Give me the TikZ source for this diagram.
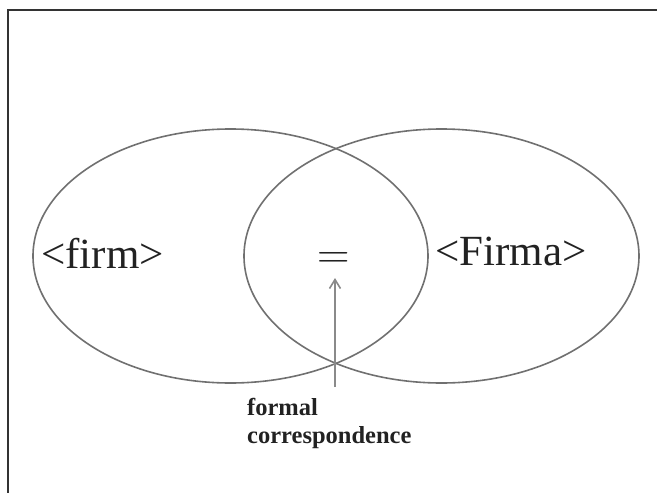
\documentclass[tikz,border=0pt]{standalone}
\usepackage{fontspec}
\setmainfont{Liberation Serif}
\newfontfamily\lmrfont{Latin Modern Roman}
\usetikzlibrary{shapes.geometric,arrows.meta}
\definecolor{ringgray}{HTML}{707070}
\definecolor{arrowgray}{HTML}{8A8A8A}
\definecolor{ink}{HTML}{222222}
\definecolor{framegray}{HTML}{333333}
\begin{document}
\begin{tikzpicture}[x=1pt,y=-1pt,
  ring/.style={ellipse, draw=ringgray, line width=1.6pt, minimum width=395pt, minimum height=254pt, inner sep=0pt},
  bigword/.style={anchor=base west, inner sep=0pt, text=ink, font=\fontsize{43}{50}\selectfont},
  caption/.style={anchor=base west, inner sep=0pt, text=ink, font=\bfseries\fontsize{24.5}{28}\selectfont},
  pointer/.style={draw=arrowgray, line width=1.6pt, -{Straight Barb[length=9pt,width=11pt,line width=1.6pt]}}]
\useasboundingbox (0,0) rectangle (657,493);
\coordinate (fa) at (8,493);
\coordinate (fb) at (8,10);
\coordinate (fc) at (657,10);
\draw[framegray, line width=1.6pt] (fa) -- (fb) -- (fc);
\node[ring] (L) at (230.5,256) {};
\node[ring] (R) at (441.5,256) {};
\node[bigword] (firm) at (41,268) {<firm>};
\node[bigword] (Firma) at (435,265) {<Firma>};
\node[anchor=base, inner sep=0pt, text=ink, font=\lmrfont\fontsize{45}{50}\selectfont] (eq) at (334,268.5) {=};
\coordinate (tail) at (335,387);
\coordinate (head) at (335,278);
\draw[pointer] (tail) -- (head);
\node[caption] (c1) at (247,415) {formal};
\node[caption] (c2) at (247,443) {correspondence};
\end{tikzpicture}
\end{document}
